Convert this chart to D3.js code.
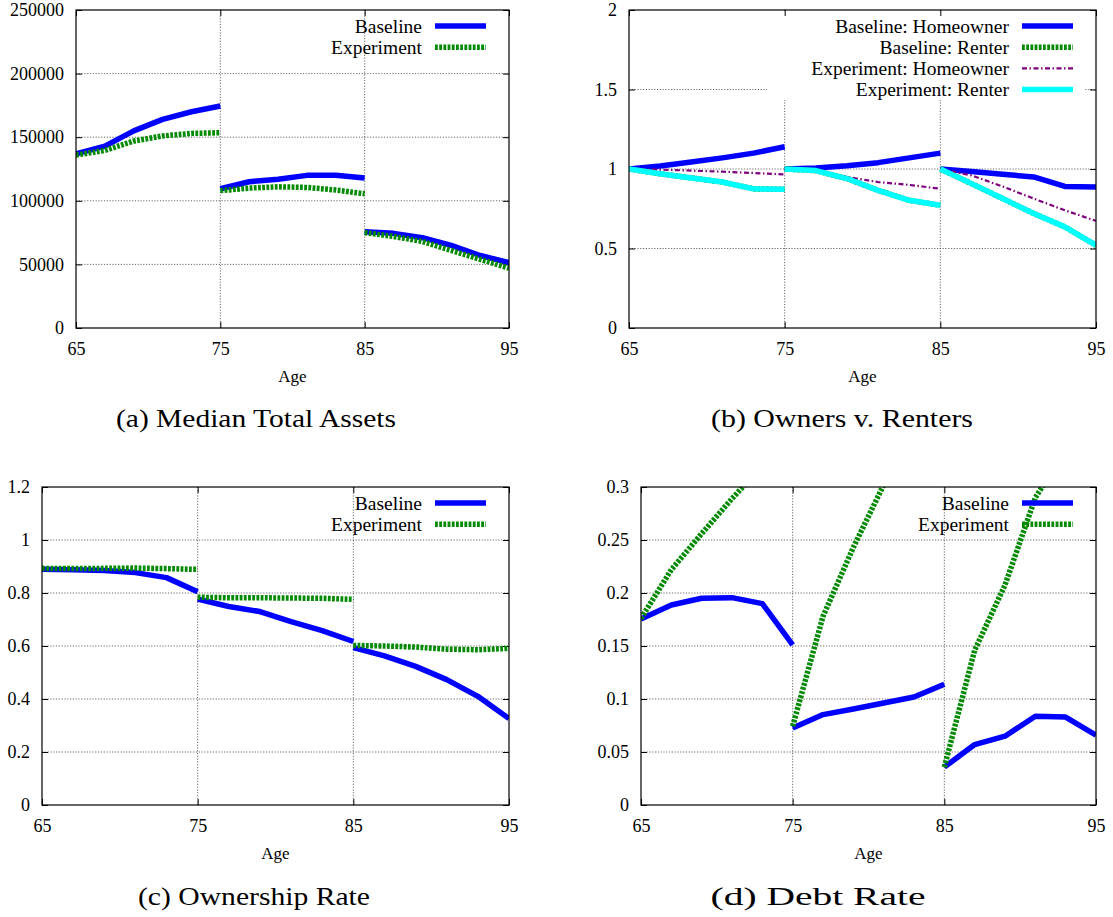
<!DOCTYPE html>
<html>
<head>
<meta charset="utf-8">
<script src="https://cdn.jsdelivr.net/npm/d3@7"></script>
<style>
  body { margin: 0; background: #fff; }
  svg text { fill: #000; font-family: "Liberation Serif", "Times New Roman", Times, serif; }
</style>
</head>
<body>
<script>

// Ages along the x axis, three cohorts of six points each
const ages = [65, 67, 69, 71, 73, 75,  75, 77, 79, 81, 83, 85,  85, 87, 89, 91, 93, 95];
const ageTicks = [65, 75, 85, 95];

// (a) Median Total Assets
const assetsBaseline   = [137000, 143000, 155000, 164000, 170000, 174500,
                          109500, 115000, 117000, 120000, 120000, 118000,
                          75700, 74400, 71000, 65000, 57000, 51500];
const assetsExperiment = [136000, 139600, 147000, 151000, 153000, 153500,
                          108000, 110000, 111000, 110500, 108500, 105500,
                          75000, 72000, 68000, 61000, 54000, 47000];
const assetTicks = [0, 50000, 100000, 150000, 200000, 250000];

// (b) Owners v. Renters
const baseHomeowner = [1, 1.019, 1.044, 1.07, 1.10, 1.14,
                       1, 1.006, 1.02, 1.04, 1.07, 1.10,
                       1, 0.985, 0.967, 0.95, 0.89, 0.887];
const baseRenter    = [1, 0.97, 0.944, 0.918, 0.875, 0.872,
                       1, 0.99, 0.94, 0.866, 0.803, 0.772,
                       1, 0.908, 0.814, 0.72, 0.636, 0.52];
const expHomeowner  = [1, 0.996, 0.99, 0.983, 0.975, 0.966,
                       1, 0.99, 0.95, 0.918, 0.90, 0.876,
                       1, 0.96, 0.89, 0.814, 0.74, 0.674];
const expRenter     = [1, 0.97, 0.944, 0.918, 0.875, 0.872,
                       1, 0.99, 0.94, 0.866, 0.803, 0.772,
                       1, 0.908, 0.814, 0.72, 0.636, 0.52];
const ratioTicks = [0, 0.5, 1, 1.5, 2];

// (c) Ownership Rate
const ownBaseline   = [0.890, 0.888, 0.885, 0.877, 0.858, 0.805,
                       0.777, 0.749, 0.730, 0.692, 0.658, 0.617,
                       0.594, 0.563, 0.523, 0.473, 0.410, 0.326];
const ownExperiment = [0.893, 0.892, 0.893, 0.894, 0.892, 0.889,
                       0.784, 0.782, 0.782, 0.781, 0.780, 0.776,
                       0.602, 0.600, 0.596, 0.588, 0.586, 0.591];
const ownTicks = [0, 0.2, 0.4, 0.6, 0.8, 1, 1.2];

// (d) Debt Rate (experiment runs past the top of the plot and is clipped)
const debtBaseline   = [0.1755, 0.1887, 0.195, 0.1956, 0.190, 0.151,
                        0.0727, 0.0853, 0.0906, 0.0962, 0.1019, 0.114,
                        0.0357, 0.057, 0.0649, 0.0837, 0.083, 0.0658];
const debtExperiment = [0.176, 0.222, 0.256, 0.289, 0.32, 0.345,
                        0.0743, 0.178, 0.243, 0.302, 0.345, 0.38,
                        0.0357, 0.146, 0.2075, 0.29, 0.335, 0.37];
const debtTicks = [0, 0.05, 0.1, 0.15, 0.2, 0.25, 0.3];

const captions = ["(a) Median Total Assets", "(b) Owners v. Renters",
                  "(c) Ownership Rate", "(d) Debt Rate"];

// line styles, gnuplot look
const styles = {
  blue:   { stroke: "#0000ff", width: 5.5, dash: null },
  green:  { stroke: "#008a00", width: 5.5, dash: "2.8,1.4" },
  purple: { stroke: "#7f007f", width: 2.2, dash: "5,2.5,1.5,2.5" },
  cyan:   { stroke: "#00ffff", width: 5.5, dash: null }
};

const width = 1113, height = 917;
const svg = d3.select("body")
  .append("svg")
  .attr("width", width)
  .attr("height", height);

let clipId = 0;

function drawPanel(p) {
  const g = svg.append("g");
  const x = d3.scaleLinear().domain([65, 95]).range([p.left, p.right]);
  const y = d3.scaleLinear().domain([p.yTicks[0], p.yTicks[p.yTicks.length - 1]])
              .range([p.bottom, p.top]);

  // dotted grid, interior ticks only
  const grid = g.append("g")
    .attr("stroke", "#444")
    .attr("stroke-width", 0.8)
    .attr("stroke-dasharray", "1.2,1.6");
  grid.selectAll(".gx").data(ageTicks.slice(1, -1)).join("line")
    .attr("x1", d => x(d)).attr("x2", d => x(d))
    .attr("y1", p.top).attr("y2", p.bottom);
  grid.selectAll(".gy").data(p.yTicks.slice(1, -1)).join("line")
    .attr("x1", p.left).attr("x2", p.right)
    .attr("y1", d => y(d)).attr("y2", d => y(d));

  // opaque key box (panel b)
  if (p.opaqueKey) {
    g.append("rect")
      .attr("x", p.right - 329).attr("y", p.top + 1)
      .attr("width", 318).attr("height", 89)
      .attr("fill", "#fff");
  }

  // axes with inward ticks on all four sides
  const tickStyle = sel => {
    sel.select(".domain").remove();
    sel.attr("font-size", 18).attr("font-family", null);
  };
  g.append("g")
    .attr("transform", `translate(0,${p.bottom})`)
    .call(d3.axisBottom(x).tickValues(ageTicks).tickSize(-6).tickPadding(14))
    .call(tickStyle);
  g.append("g")
    .attr("transform", `translate(0,${p.top})`)
    .call(d3.axisTop(x).tickValues(ageTicks).tickSize(-6).tickFormat(""))
    .call(tickStyle);
  g.append("g")
    .attr("transform", `translate(${p.left},0)`)
    .call(d3.axisLeft(y).tickValues(p.yTicks).tickSize(-6).tickPadding(12)
            .tickFormat(d => String(d)))
    .call(tickStyle);
  g.append("g")
    .attr("transform", `translate(${p.right},0)`)
    .call(d3.axisRight(y).tickValues(p.yTicks).tickSize(-6).tickFormat(""))
    .call(tickStyle);

  // clip to plot area
  const id = "clip" + (clipId++);
  g.append("clipPath").attr("id", id)
    .append("rect")
    .attr("x", p.left).attr("y", p.top)
    .attr("width", p.right - p.left).attr("height", p.bottom - p.top);

  const line = d3.line()
    .x(d => x(d.age))
    .y(d => y(d.v));

  const plot = g.append("g").attr("clip-path", `url(#${id})`);
  p.series.forEach(s => {
    const st = styles[s.style];
    // split into the three cohorts
    const pts = s.values.map((v, i) => ({ age: ages[i], v: v, seg: Math.floor(i / 6) }));
    d3.groups(pts, d => d.seg).forEach(([, seg]) => {
      plot.append("path")
        .datum(seg)
        .attr("d", line)
        .attr("fill", "none")
        .attr("stroke", st.stroke)
        .attr("stroke-width", st.width)
        .attr("stroke-dasharray", st.dash)
        .attr("stroke-linejoin", "round")
        .attr("stroke-linecap", "butt");
    });
  });

  // key, top right
  p.series.forEach((s, i) => {
    const st = styles[s.style];
    const cy = p.top + 16 + i * 21.2;
    g.append("text")
      .attr("x", p.right - 87)
      .attr("y", cy + 6.5)
      .attr("text-anchor", "end")
      .attr("font-size", 19.5)
      .text(s.label);
    g.append("line")
      .attr("x1", p.right - 74).attr("x2", p.right - 23)
      .attr("y1", cy).attr("y2", cy)
      .attr("stroke", st.stroke)
      .attr("stroke-width", st.width)
      .attr("stroke-dasharray", st.dash);
  });

  // border
  g.append("rect")
    .attr("x", p.left).attr("y", p.top)
    .attr("width", p.right - p.left).attr("height", p.bottom - p.top)
    .attr("fill", "none")
    .attr("stroke", "#000")
    .attr("stroke-width", 1.2);

  // x label
  g.append("text")
    .attr("x", (p.left + p.right) / 2)
    .attr("y", p.bottom + 54)
    .attr("text-anchor", "middle")
    .attr("font-size", 17)
    .text("Age");

  // caption
  g.append("text")
    .attr("x", p.capX)
    .attr("y", p.capY)
    .attr("text-anchor", "middle")
    .attr("font-size", 25)
    .attr("textLength", p.capW)
    .attr("lengthAdjust", "spacingAndGlyphs")
    .text(p.caption);
}

drawPanel({
  left: 76, right: 509, top: 10, bottom: 328,
  yTicks: assetTicks,
  series: [
    { label: "Baseline", values: assetsBaseline, style: "blue" },
    { label: "Experiment", values: assetsExperiment, style: "green" }
  ],
  caption: captions[0], capX: 256, capY: 427, capW: 280
});

drawPanel({
  left: 629, right: 1096, top: 10, bottom: 328,
  yTicks: ratioTicks,
  opaqueKey: true,
  series: [
    { label: "Baseline: Homeowner", values: baseHomeowner, style: "blue" },
    { label: "Baseline: Renter", values: baseRenter, style: "green" },
    { label: "Experiment: Homeowner", values: expHomeowner, style: "purple" },
    { label: "Experiment: Renter", values: expRenter, style: "cyan" }
  ],
  caption: captions[1], capX: 842, capY: 427, capW: 262
});

drawPanel({
  left: 42, right: 509, top: 487, bottom: 805,
  yTicks: ownTicks,
  series: [
    { label: "Baseline", values: ownBaseline, style: "blue" },
    { label: "Experiment", values: ownExperiment, style: "green" }
  ],
  caption: captions[2], capX: 254, capY: 905, capW: 232
});

drawPanel({
  left: 641, right: 1096, top: 487, bottom: 805,
  yTicks: debtTicks,
  series: [
    { label: "Baseline", values: debtBaseline, style: "blue" },
    { label: "Experiment", values: debtExperiment, style: "green" }
  ],
  caption: captions[3], capX: 818, capY: 905, capW: 215
});

</script>
</body>
</html>
